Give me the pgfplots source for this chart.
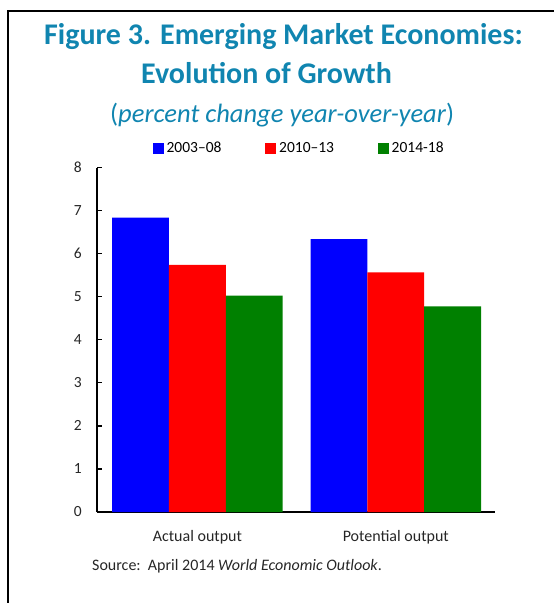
\documentclass[border=0pt]{standalone}
\usepackage{fontspec}
\setmainfont{Carlito}
\usepackage{pgfplots}
\pgfplotsset{compat=1.18}

\definecolor{imfteal}{RGB}{16,133,176}
\definecolor{bblue}{RGB}{0,0,255}
\definecolor{bred}{RGB}{255,0,0}
\definecolor{bgreen}{RGB}{0,128,0}

\begin{document}
\begin{tikzpicture}
\useasboundingbox (0pt,0pt) rectangle (554pt,-603pt);
% frame (left and top only, as in the scan)
\draw[line width=2pt] (8pt,-603pt) -- (8pt,-11pt) -- (554pt,-11pt);

% titles
\node[anchor=base west, inner sep=0pt, text=imfteal,
      font=\fontsize{30}{34}\selectfont\bfseries] at (44pt,-44pt)
      {Figure 3. Emerging Market Economies:};
\node[anchor=base west, inner sep=0pt, text=imfteal,
      font=\fontsize{30}{34}\selectfont\bfseries] at (141pt,-83pt)
      {Evolution of Growth};
\node[anchor=base west, inner sep=0pt, text=imfteal,
      font=\fontsize{26.5}{30}\selectfont] at (110pt,-122pt)
      {(\textit{percent change year-over-year})};

\begin{axis}[
    at={(97pt,-512pt)}, anchor=south west,
    scale only axis,
    width=398pt, height=344.3pt,
    ybar=0pt, bar width=56.8pt,
    xmin=-0.506, xmax=1.5,
    ymin=0, ymax=8,
    xtick={0,1},
    xticklabels={Actual output, Potential output},
    ytick={0,1,...,8},
    axis x line=bottom, axis y line=left,
    axis line style={-, line width=1.4pt, black},
    tick align=inside,
    major tick length=5pt,
    ytick style={line width=1.2pt, black},
    xtick style={draw=none},
    /pgf/number format/assume math mode=true,
    tick label style={font=\fontsize{15.5}{18}\selectfont, text=black!85},
    yticklabel style={anchor=east, inner sep=0pt, xshift=-15pt},
    xticklabel style={anchor=base, inner sep=0pt, yshift=-29pt,
                      font=\fontsize{16}{19}\selectfont},
    legend columns=3,
    legend cell align=left,
    legend style={at={(rel axis cs:0.14,1.057)}, anchor=west,
                  draw=none, fill=none, inner sep=0pt,
                  font=\fontsize{15.5}{18}\selectfont,
                  nodes={inner sep=0pt},
                  /tikz/every odd column/.append style={column sep=2.7pt},
                  /tikz/every even column/.append style={column sep=44pt}},
    legend image code/.code={\fill[#1] (0pt,-5.5pt) rectangle (11pt,5.5pt);},
]

\addplot[fill=bblue, draw=none] coordinates {(0,6.84) (1,6.34)};
\addplot[fill=bred, draw=none] coordinates {(0,5.74) (1,5.57)};
\addplot[fill=bgreen, draw=none] coordinates {(0,5.03) (1,4.78)};

\legend{2003--08, 2010--13, 2014-18}
\end{axis}

\node[anchor=base west, inner sep=0pt, font=\fontsize{16}{19}\selectfont,
      text=black!85] at (92pt,-570pt)
      {Source:\ \ April 2014 \textit{World Economic Outlook}.};
\end{tikzpicture}
\end{document}
